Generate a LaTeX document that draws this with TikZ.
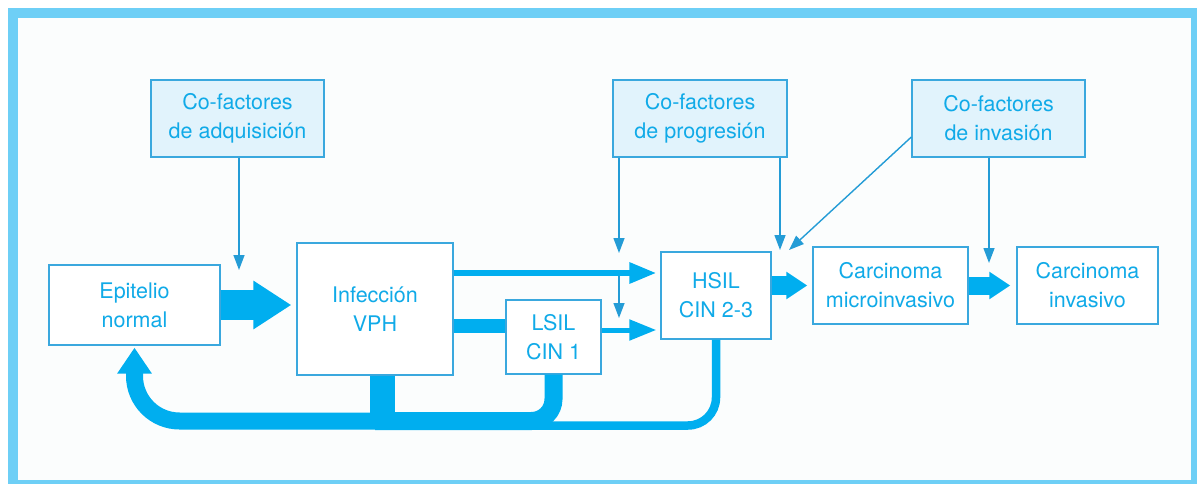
\documentclass[tikz,border=0pt]{standalone}
\usepackage{fontspec}
\setmainfont{TeX Gyre Heros}
\usepackage{xcolor}
\usepackage{tikz}
\usetikzlibrary{positioning,arrows.meta}
\definecolor{VPHFrame}{RGB}{110,207,246}
\definecolor{VPHBlue}{RGB}{0,174,239}
\definecolor{VPHLine}{RGB}{58,168,222}
\definecolor{VPHText}{RGB}{16,170,232}
\definecolor{VPHFill}{RGB}{225,243,252}
\definecolor{VPHThin}{RGB}{36,156,214}
\definecolor{VPHBack}{RGB}{251,253,253}
\tikzset{
    stagebox/.style={rectangle, draw=VPHLine, line width=1.3pt, fill=white, text=VPHText, align=center, font=\fontsize{21.5}{29}\selectfont, inner sep=0pt},
    cofbox/.style={stagebox, fill=VPHFill},
    thinarrow/.style={draw=VPHThin, line width=1.4pt, -{Triangle[length=15pt,width=11pt]}},
    fatarrow/.style={draw=VPHBlue, -{Triangle[length=21pt,width=26pt]}},
    backflow/.style={draw=VPHBlue}
}

\begin{document}
\begin{tikzpicture}[
                x=1pt, y=-1pt,
                % Hộp có màu nền xanh nhạt
                cofbox/.style={
                    stagebox,
                    fill=VPHFill
                }
            ]
                \useasboundingbox (0,0) rectangle (1197,484);
                % Khung ngoài
                \fill[VPHBack] (13,13.5) rectangle (1196,485);
                \draw[VPHFrame, line width=10pt] (13,13.5) rectangle (1196,485);

                % Các hộp đồng yếu tố
                \node[cofbox, minimum width=173pt, minimum height=77pt] (adq) at (237.5,118.5) {Co-factores\\de adquisición};
                \node[cofbox, minimum width=174pt, minimum height=77pt] (prog) at (700,118.5) {Co-factores\\de progresión};
                \node[cofbox, minimum width=173pt, minimum height=77pt] (cinv) at (998.5,118.5) {Co-factores\\de invasión};

                % Các giai đoạn
                \node[stagebox, minimum width=171pt, minimum height=80pt] (epit) at (134.5,305) {Epitelio\\normal};
                \node[stagebox, minimum width=156pt, minimum height=132pt] (vph) at (375,309) {Infección\\VPH};
                \node[stagebox, minimum width=95pt, minimum height=74pt] (lsil) at (553.5,337) {LSIL\\CIN 1};
                \node[stagebox, minimum width=110pt, minimum height=87pt] (hsil) at (716,295.5) {HSIL\\CIN 2-3};
                \node[stagebox, minimum width=155pt, minimum height=77pt] (micro) at (890.5,285.5) {Carcinoma\\microinvasivo};
                \node[stagebox, minimum width=141pt, minimum height=77pt] (inva) at (1087.5,285.5) {Carcinoma\\invasivo};

                % Điểm phụ
                \coordinate (tipA) at (239,270);
                \coordinate (tipB) at (619,253);
                \coordinate (tipC) at (619,318);
                \coordinate (rowH) at (619,273);
                \coordinate (rowL) at (480,326);
                \coordinate (rowM) at (630,330);
                \coordinate (tipD) at (780,250);
                \coordinate (tipE) at (789,250);
                \coordinate (tipF) at (989,263);
                \coordinate (bot) at (300,421);
                \coordinate (botH) at (600,425.5);

                % Mũi tên mảnh
                \draw[thinarrow] (adq.south -| tipA) -- (tipA);
                \draw[thinarrow] (prog.south -| tipB) -- (tipB);
                \draw[thinarrow] (rowH) -- (tipC);
                \draw[thinarrow] (prog.south -| tipD) -- (tipD);
                \draw[thinarrow] ([yshift=-18.5pt]cinv.west) -- (tipE);
                \draw[thinarrow] (cinv.south -| tipF) -- (tipF);

                % Mũi tên đậm
                \draw[fatarrow, line width=30pt, -{Triangle[length=38pt,width=46pt]}, shorten >=5pt] (epit.east) -- (epit.east -| vph.west);
                \draw[fatarrow, line width=6pt, -{Triangle[length=27pt,width=20pt]}, shorten >=4pt] (vph.east |- rowH) -- (hsil.west |- rowH);
                \draw[backflow, line width=14pt] (vph.east |- rowL) -- (lsil.west |- rowL);
                \draw[fatarrow, line width=5pt, -{Triangle[length=27pt,width=20pt]}, shorten >=4pt] (lsil.east |- rowM) -- (hsil.west |- rowM);
                \draw[fatarrow, line width=19pt, shorten >=5pt] (hsil.east |- micro) -- (micro.west);
                \draw[fatarrow, line width=18pt, shorten >=6pt] (micro.east) -- (inva.west);

                % Đường quay về
                \draw[backflow, line width=8.5pt, rounded corners=28pt] (hsil.south) -- (hsil.south |- botH) -- (vph.south |- botH);
                \draw[backflow, line width=18pt, rounded corners=22pt] (lsil.south) -- (lsil.south |- bot) -- (vph.south |- bot);
                \draw[backflow, line width=25pt] ([xshift=7pt]vph.south) -- ([xshift=7pt]vph.south |- bot);
                \draw[backflow, line width=17pt, rounded corners=45pt, -{Triangle[length=26pt,width=33pt]}, shorten >=2pt] (vph.south |- bot) -- (epit.south |- bot) -- (epit.south);
            \end{tikzpicture}
\end{document}
